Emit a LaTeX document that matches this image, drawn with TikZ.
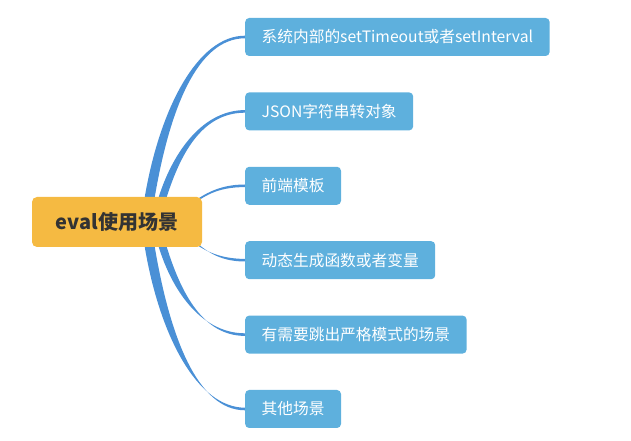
\documentclass[tikz,border=0pt]{standalone}
\usepackage{fontspec}
\setmainfont{Noto Sans CJK SC}
\usepackage{xcolor}
\usetikzlibrary{positioning, calc, backgrounds}

\definecolor{rootfill}{RGB}{245,186,66}
\definecolor{leaffill}{RGB}{94,176,221}
\definecolor{twigblue}{RGB}{74,144,214}

% tapered branch: #1 base, #2 tip, #3 half width at base, #4 rise, #5 lean
\newcommand\twig[5]{%
  \fill[twigblue] let \p1=#1, \p2=#2, \n1={(\y2-\y1)*#4}, \n2={(\x2-\x1)*0.5} in
    (\x1-#3,\y1) .. controls (\x1-#3+#5,\y1+\n1) and (\x2-\n2,\y2+1.3pt) .. (\x2,\y2+1.3pt)
    -- (\x2,\y2-1.3pt) .. controls (\x2-\n2,\y2-1.3pt) and (\x1+#3+#5,\y1+\n1) .. (\x1+#3,\y1) -- cycle;
}

\begin{document}
\begin{tikzpicture}[
    x=1pt, y=1pt,
    root/.style={fill=rootfill, rounded corners=5pt, minimum width=170pt, minimum height=50pt,
      text=black!80, font=\fontsize{20}{24}\selectfont\bfseries},
    leaf/.style={fill=leaffill, rounded corners=4pt, minimum height=38pt, inner xsep=16.5pt,
      text=white, anchor=west, font=\fontsize{15.7}{19}\selectfont}
]
    \useasboundingbox (0,0) rectangle (631,441);

    \node[root] (root) at (117,219) {eval使用场景};

    \node[leaf] (c1) at (245,404) {系统内部的setTimeout或者setInterval};
    \node[leaf, below=36pt of c1.south west, anchor=north west] (c2) {JSON字符串转对象};
    \node[leaf, below=36pt of c2.south west, anchor=north west] (c3) {前端模板};
    \node[leaf, below=36pt of c3.south west, anchor=north west] (c4) {动态生成函数或者变量};
    \node[leaf, below=36pt of c4.south west, anchor=north west] (c5) {有需要跳出严格模式的场景};
    \node[leaf, below=36pt of c5.south west, anchor=north west] (c6) {其他场景};

    % branches
    \begin{scope}[on background layer]
        \twig{($(root.north west)+(118,0)$)}{(c1.west)}{5pt}{0.55}{15pt}
        \twig{($(root.north west)+(131,0)$)}{(c2.west)}{4pt}{0.55}{15pt}
        \twig{($(root.north east)+(-14,-10)$)}{(c3.west)}{1.6pt}{0.5}{14pt}
        \twig{($(root.south east)+(-14,10)$)}{(c4.west)}{1.6pt}{0.5}{14pt}
        \twig{($(root.south west)+(131,0)$)}{(c5.west)}{4pt}{0.55}{15pt}
        \twig{($(root.south west)+(118,0)$)}{(c6.west)}{5pt}{0.55}{15pt}
    \end{scope}

\end{tikzpicture}
\end{document}
